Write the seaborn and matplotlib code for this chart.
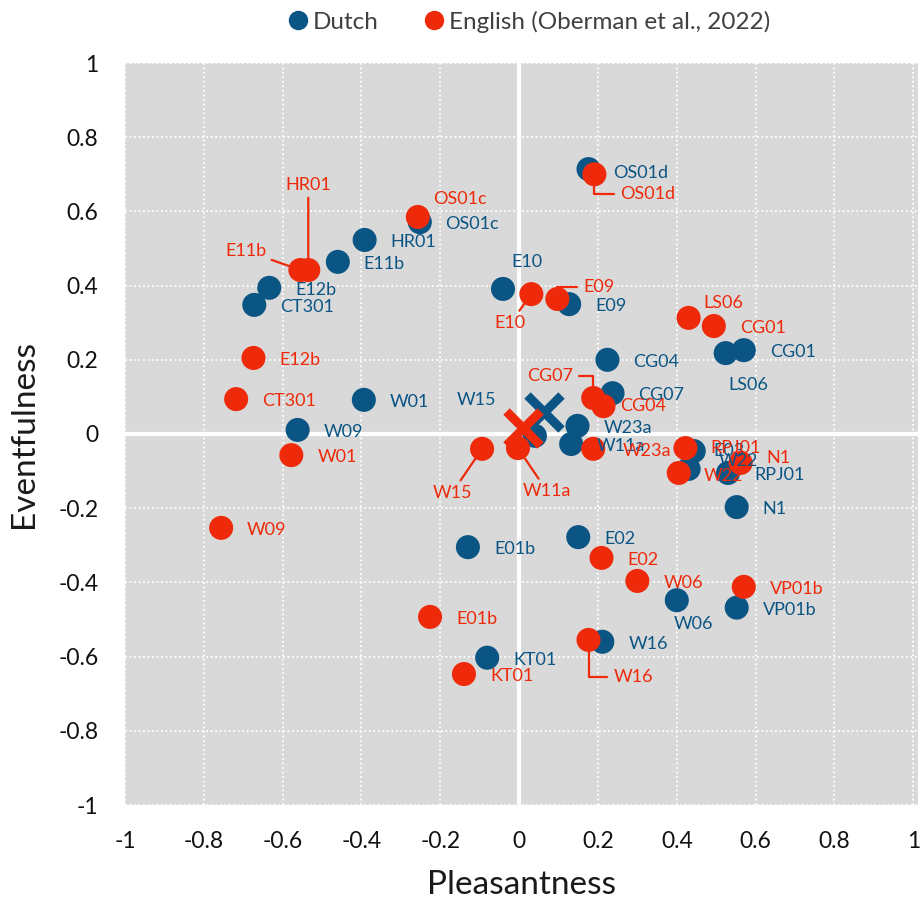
import numpy as np
import pandas as pd
import matplotlib
matplotlib.use("Agg")
import matplotlib.pyplot as plt
from matplotlib.lines import Line2D
import seaborn as sns

# --- Data ---
dutch_labels = ["OS01d", "OS01c", "HR01", "E11b", "E12b", "CT301", "E10", "E09",
                "CG04", "CG07", "LS06", "CG01", "W01", "W09", "W15", "W23a",
                "W11a", "E03", "W22", "RPJ01", "N1", "E01b", "E02", "W06",
                "VP01b", "W16", "KT01"]
dutch_x = [0.176, -0.252, -0.392, -0.46, -0.634, -0.672, -0.041, 0.127,
           0.224, 0.237, 0.524, 0.57, -0.394, -0.562, 0.04, 0.148,
           0.132, 0.443, 0.43, 0.53, 0.552, -0.13, 0.15, 0.40,
           0.552, 0.211, -0.081]
dutch_y = [0.714, 0.571, 0.523, 0.464, 0.394, 0.348, 0.391, 0.35,
           0.2, 0.11, 0.218, 0.226, 0.092, 0.011, -0.005, 0.022,
           -0.027, -0.046, -0.094, -0.105, -0.197, -0.305, -0.278, -0.448,
           -0.468, -0.56, -0.603]

english_labels = ["OS01c", "OS01d", "HR01", "E11b", "E10", "E09", "LS06", "CG01",
                  "E12b", "CT301", "W01", "W09", "CG07", "CG04", "W23a", "W15",
                  "W11a", "RPJ01", "W22", "N1", "E02", "W06", "VP01b", "E01b",
                  "W16", "KT01"]
english_x = [-0.257, 0.191, -0.535, -0.555, 0.031, 0.097, 0.43, 0.494,
             -0.674, -0.718, -0.578, -0.756, 0.188, 0.214, 0.188, -0.094,
             -0.003, 0.422, 0.405, 0.562, 0.209, 0.30, 0.57, -0.226,
             0.176, -0.14]
english_y = [0.585, 0.70, 0.442, 0.442, 0.377, 0.364, 0.313, 0.291,
             0.205, 0.094, -0.057, -0.253, 0.097, 0.075, -0.04, -0.04,
             -0.038, -0.038, -0.105, -0.078, -0.334, -0.396, -0.412, -0.493,
             -0.555, -0.647]

mean_groups = ["Dutch", "English"]
mean_x = [0.063, 0.01]
mean_y = [0.058, 0.016]

tick_values = [-1, -0.8, -0.6, -0.4, -0.2, 0, 0.2, 0.4, 0.6, 0.8, 1]
tick_labels = ["-1", "-0.8", "-0.6", "-0.4", "-0.2", "0", "0.2", "0.4", "0.6", "0.8", "1"]

BLUE = "#0b5585"
RED = "#ee2a0b"
BG = "#d9d9d9"

# label offsets in pixels (dx right, dy down); default is to the right of the dot
DEFAULT_OFF = (26, 2)
dutch_off = {
    "OS01d": (25, 4), "OS01c": (25, 2), "E10": (24, -27, "center"),
    "LS06": (23, 32, "center"), "W15": (-58, -36, "center"),
    "E03": (20, 0), "W22": (30, -8), "W06": (17, 24, "center"),
}
# (dx, dy, ha, leader line style)
english_off = {
    "OS01c": (15, -18, "left", None),
    "HR01": (0, -85, "center", "straight"),
    "E11b": (-54, -19, "center", "straight"),
    "OS01d": (26, 20, "left", "elbow"),
    "E10": (-21, 29, "center", "straight"),
    "E09": (26, -12, "left", "elbow"),
    "LS06": (15, -15, "left", None),
    "CG07": (-20, -22, "right", "elbow"),
    "CG04": (17, 0, "left", None),
    "W23a": (29, 2, "left", None),
    "W15": (-30, 44, "center", "straight"),
    "W11a": (29, 43, "center", "straight"),
    "RPJ01": (25, 0, "left", None),
    "W22": (25, 3, "left", None),
    "N1": (26, -5, "left", None),
    "W16": (25, 37, "left", "elbow"),
}

df = pd.DataFrame({
    "Pleasantness": dutch_x + english_x,
    "Eventfulness": dutch_y + english_y,
    "group": ["Dutch"] * len(dutch_x) + ["English (Oberman et al., 2022)"] * len(english_x),
})

sns.set_style("white")
plt.rcParams["font.family"] = ["Lato", "DejaVu Sans"]

fig = plt.figure(figsize=(9.21, 9.02), dpi=100)
ax = fig.add_axes([125 / 921, 97 / 902, 793 / 921, 742 / 902])
ax.set_facecolor(BG)

sns.scatterplot(data=df, x="Pleasantness", y="Eventfulness", hue="group",
                palette=[BLUE, RED], s=300, linewidth=0, alpha=1,
                legend=False, ax=ax, zorder=3)

# group centres
for g, mx, my, c, z in zip(mean_groups, mean_x, mean_y, [BLUE, RED], [5, 6]):
    ax.plot(mx, my, marker="x", markersize=25, markeredgewidth=6.5,
            color=c, linestyle="none", zorder=z)

# labels
for lab, x, y in zip(dutch_labels, dutch_x, dutch_y):
    o = dutch_off.get(lab, DEFAULT_OFF)
    ha = o[2] if len(o) > 2 else "left"
    ax.annotate(lab, (x, y), xytext=(o[0], -o[1]), textcoords="offset pixels",
                ha=ha, va="center", fontsize=13, color=BLUE, zorder=7)

for lab, x, y in zip(english_labels, english_x, english_y):
    dx, dy, ha, line = english_off.get(lab, (26, 2, "left", None))
    arrow = None
    if line == "straight":
        arrow = dict(arrowstyle="-", color=RED, lw=1.6, shrinkA=1, shrinkB=7)
    elif line == "elbow":
        arrow = dict(arrowstyle="-", color=RED, lw=1.6, shrinkA=2, shrinkB=7,
                     connectionstyle="angle,angleA=0,angleB=90,rad=0")
    ax.annotate(lab, (x, y), xytext=(dx, -dy), textcoords="offset pixels",
                ha=ha, va="center", fontsize=13, color=RED, zorder=7,
                arrowprops=arrow)

# axes cosmetics
ax.set_xlim(-1, 1.012)
ax.set_ylim(-1, 1)
ax.set_xticks(tick_values)
ax.set_xticklabels(tick_labels)
ax.set_yticks(tick_values)
ax.set_yticklabels(tick_labels)
ax.tick_params(length=0, labelsize=16.5, pad=19, labelcolor="#111111")
ax.grid(True, color="white", linestyle=(0, (1, 1.5)), linewidth=1.3, zorder=0)
ax.set_axisbelow(True)
ax.axhline(0, color="white", lw=3, zorder=1)
ax.axvline(0, color="white", lw=3, zorder=1)
for sp in ax.spines.values():
    sp.set_visible(False)

ax.set_xlabel("Pleasantness", fontsize=24, color="#1a1a1a")
ax.set_ylabel("Eventfulness", fontsize=24, color="#1a1a1a")
ax.xaxis.set_label_coords(0.5, -0.108)
ax.xaxis.label.set_va("center")
ax.yaxis.set_label_coords(-0.127, 0.5)
ax.yaxis.label.set_va("center")

handles = [Line2D([], [], marker="o", linestyle="none", markersize=14,
                  markerfacecolor=c, markeredgewidth=0) for c in [BLUE, RED]]
fig.legend(handles, ["Dutch", "English (Oberman et al., 2022)"],
           loc="center", bbox_to_anchor=(0.573, 0.976), ncol=2, frameon=False,
           fontsize=17.5, handletextpad=0.1, columnspacing=1.8, handlelength=1.0,
           labelcolor="#404040")

fig.savefig("out.png", dpi=100)
